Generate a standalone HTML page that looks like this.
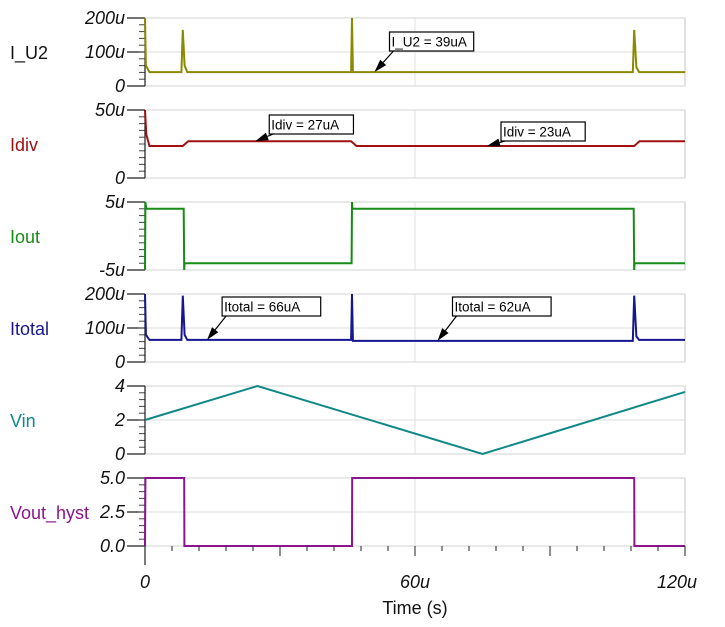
<!DOCTYPE html>
<html><head><meta charset="utf-8"><style>
body{margin:0;background:#fff;width:725px;height:622px;overflow:hidden}
svg text{font-family:"Liberation Sans",sans-serif}
</style></head><body>
<svg id="c" width="725" height="622" xmlns="http://www.w3.org/2000/svg"></svg>
<script>
const timeTicks=[0,60,120];
const timeTickLabels=["0","60u","120u"];
const panelNames=["I_U2","Idiv","Iout","Itotal","Vin","Vout_hyst"];
const panelColors=["#8a8a00","#a01010","#168c16","#161690","#118888","#8c148c"];
const panelTicks=[[0,100,200],[0,50],[-5,5],[0,100,200],[0,2,4],[0,2.5,5]];
const panelTickLabels=[["0","100u","200u"],["0","50u"],["-5u","5u"],["0","100u","200u"],["0","2","4"],["0.0","2.5","5.0"]];
const panelMin=[0,0,-5,0,0,0];
const panelMax=[200,50,5,200,4,5];
// series data: [time(us), value]
const iu2T=[0,0.2,1,2,8.1,8.4,8.8,9.4,45.8,46,46.2,108.4,108.7,109.2,109.8,120];
const iu2V=[200,60,41,41,41,165,60,41,41,200,41,41,165,55,41,41];
const idivT=[0,0.3,1,8.4,9.6,45.8,47,108.7,109.9,120];
const idivV=[50,32,23.5,23.5,27,27,23.5,23.5,27,27];
const ioutT=[0,0.1,0.3,8.6,8.7,8.8,45.9,46,46.1,108.6,108.7,108.8,120];
const ioutV=[-5,5,4,4,-5,-4,-4,5,4,4,-5,-4,-4];
const itotT=[0,0.2,1,8.1,8.4,8.8,9.4,45.8,46,46.2,108.4,108.7,109.2,109.8,120];
const itotV=[200,80,65,65,195,80,65,65,200,62,62,195,75,65,65];
const vinT=[0,25,75,120];
const vinV=[2,4,0,3.65];
const voutT=[0,0.1,8.7,8.75,46,46.05,108.7,108.75,120];
const voutV=[0,5,5,0,0,5,5,0,0];
const seriesT=[iu2T,idivT,ioutT,itotT,vinT,voutT];
const seriesV=[iu2V,idivV,ioutV,itotV,vinV,voutV];
const calloutPanel=[0,1,1,3,3];
const calloutText=["I_U2 = 39uA","Idiv = 27uA","Idiv = 23uA","Itotal = 66uA","Itotal = 62uA"];
const calloutT=[51,24.5,76,13.8,65];
const calloutBoxTop=[32,115,122,297,297];

const X0=145,X1=685,TMAX=120;
const panelTop=[18,110,202,294,386,478],PH=68;
const svg=document.getElementById('c');
const NS="http://www.w3.org/2000/svg";
function xs(t){return X0+(t/TMAX)*(X1-X0);}
function ys(p,v){return panelTop[p]+PH-(v-panelMin[p])/(panelMax[p]-panelMin[p])*PH;}
function mk(tag,attrs,parent){const e=document.createElementNS(NS,tag);for(const k in attrs)e.setAttribute(k,attrs[k]);(parent||svg).appendChild(e);return e;}

for(let p=0;p<6;p++){
  const g=mk('g',{});
  
  
  const top=panelTop[p],bot=top+PH;
  const box=mk('rect',{x:X0,y:top,width:X1-X0,height:PH,fill:'none',stroke:'#cfcfcf','stroke-width':1.2},g);
  
  
  mk('line',{x1:xs(60),x2:xs(60),y1:top,y2:bot,stroke:'#e2e2e2'},g);
  panelTicks[p].forEach((v,i)=>{
    const y=ys(p,v);
    mk('line',{x1:X0,x2:X1,y1:y,y2:y,stroke:'#dcdcdc'},g);
    mk('line',{x1:X0-18,x2:X0,y1:y,y2:y,stroke:'#222','stroke-width':1.2},g);
    const t=mk('text',{x:X0-20,y:y+6,'text-anchor':'end','font-size':18,'font-style':'italic',fill:'#111'},g);
    t.textContent=panelTickLabels[p][i];
    
    
  });
  for(let k=1;k<10;k++){const y=top+k*PH/10;mk('line',{x1:X0-6,x2:X0,y1:y,y2:y,stroke:'#444'},g);}
  mk('line',{x1:X0,x2:X0,y1:top,y2:bot,stroke:'#222','stroke-width':1.2},g);
  const lab=mk('text',{x:10,y:top+PH/2+7,'font-size':18,fill:p==0?'#111':panelColors[p]},g);
  lab.textContent=panelNames[p];
  
  
  let d='';
  seriesT[p].forEach((t,i)=>{d+=(i?'L':'M')+xs(t).toFixed(1)+' '+ys(p,seriesV[p][i]).toFixed(1);});
  const path=mk('path',{d:d,fill:'none',stroke:panelColors[p],'stroke-width':2},g);
  
  
}
function valAt(p,t){const T=seriesT[p],V=seriesV[p];for(let i=1;i<T.length;i++){if(t<=T[i]){const f=(t-T[i-1])/(T[i]-T[i-1]);return V[i-1]+f*(V[i]-V[i-1]);}}return V[V.length-1];}
calloutText.forEach((s,i)=>{
  const p=calloutPanel[i],t=calloutT[i];
  const px=xs(t),py=ys(p,valAt(p,t));
  const g=mk('g',{});
  
  
  const bx=px+(p==1?14:15),by=calloutBoxTop[i];
  const w=s.length*7.2+5;
  const ang=Math.atan2(by+19-py,bx+4-px);
  const ax1=px+13*Math.cos(ang),ay1=py+13*Math.sin(ang);
  mk('line',{x1:bx+4,y1:by+19,x2:ax1,y2:ay1,stroke:'#000','stroke-width':1.2},g);
  const nx=-Math.sin(ang)*4,ny=Math.cos(ang)*4;
  mk('polygon',{points:`${px},${py} ${ax1+nx},${ay1+ny} ${ax1-nx},${ay1-ny}`,fill:'#000'},g);
  mk('rect',{x:bx,y:by,width:w,height:19,fill:'#fff',stroke:'#000','stroke-width':1.2},g);
  const tx=mk('text',{x:bx+2,y:by+14.5,'font-size':13.5,fill:'#000'},g);tx.textContent=s;
});
// x axis
const ax=mk('g',{});


for(let t=0;t<=120;t+=6){mk('line',{x1:xs(t),x2:xs(t),y1:546,y2:t%30==0?556:551,stroke:'#222'},ax);}
mk('line',{x1:X0,x2:X0,y1:546,y2:565,stroke:'#222','stroke-width':1.2},ax);
timeTicks.forEach((t,i)=>{
  const tx=mk('text',{x:xs(t)-(i==2?8:0),y:588,'text-anchor':'middle','font-size':18,'font-style':'italic',fill:'#111'},ax);
  tx.textContent=timeTickLabels[i];
  
  
});
const xt=mk('text',{x:415,y:614,'text-anchor':'middle','font-size':18,fill:'#111'},ax);
xt.textContent='Time (s)';


</script>
</body></html>
